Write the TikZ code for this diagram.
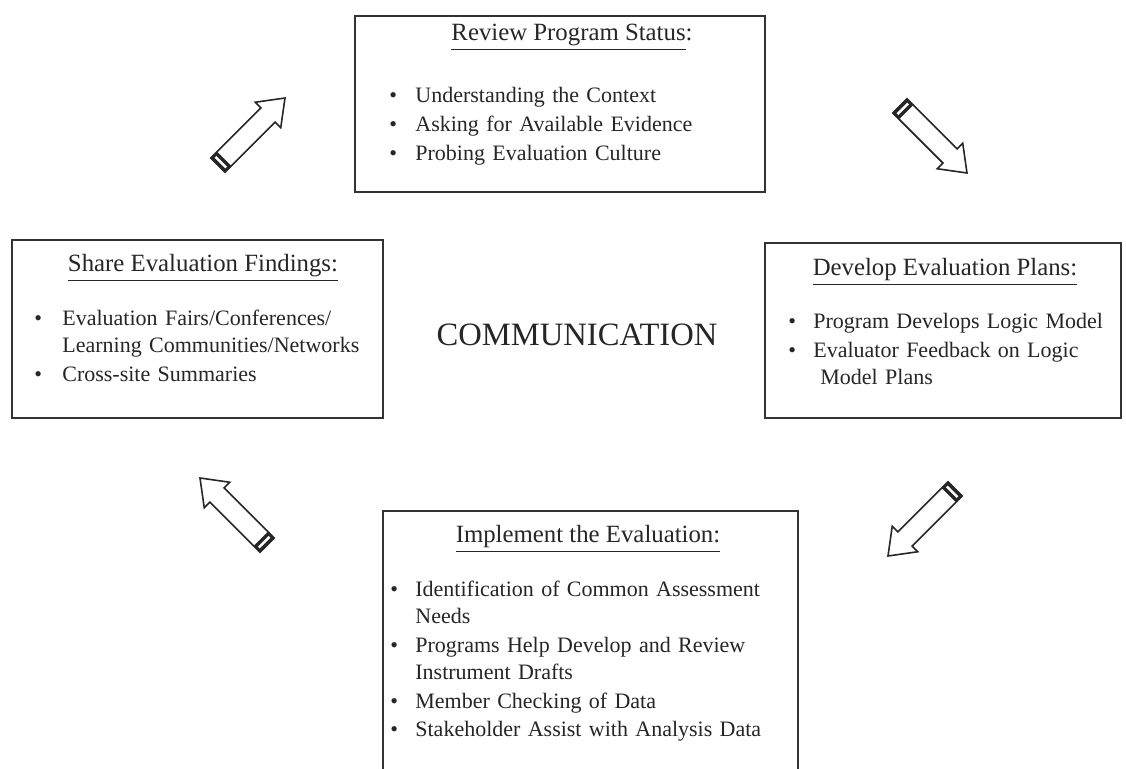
\documentclass[tikz,border=0pt]{standalone}
\usepackage{fontspec}
\setmainfont{Liberation Serif}

\tikzset{
  stepbox/.style={draw=black!80, line width=1pt, fill=white, inner sep=0pt},
  heading/.style={font=\fontsize{12.4}{14}\selectfont, text=black!85, anchor=base, inner sep=0pt},
  bullets/.style={font=\fontsize{11}{13.4}\selectfont, text=black!85, anchor=base west,
    inner sep=0pt, align=left, execute at begin node={\parskip=1pt\relax}},
  pencil/.style={draw=black!85, line width=0.8pt, fill=white, line join=miter},
}

% bullet with hanging indent
\newcommand{\itm}[1][13pt]{\hangindent=#1\hangafter=1\makebox[#1][l]{\textbullet}\ignorespaces}

% block arrow with a striped tail, tip at #1, pointing at angle #2
\newcommand{\pencilarrow}[2]{%
  \begin{scope}[shift={(#1)},rotate=#2]
    \draw[pencil] (0,0) -- (-24,18) -- (-24,10) -- (-95,10) -- (-95,-10) -- (-24,-10) -- (-24,-18) -- cycle;
    \fill[black!85] (-95,-10) rectangle (-86,10);
    \fill[white] (-92,-7.5) rectangle (-89.5,7.5);
  \end{scope}}

\begin{document}
\begin{tikzpicture}[x=0.5pt,y=-0.5pt]
  \clip (0,0) rectangle (1126,769);

  % boxes
  \node[stepbox, minimum width=205pt, minimum height=88pt] (status) at (560,104) {};
  \node[stepbox, minimum width=185.5pt, minimum height=89pt] (findings) at (197.5,329) {};
  \node[stepbox, minimum width=178pt, minimum height=87.5pt] (plans) at (943,330.5) {};
  \node[stepbox, minimum width=207.5pt, minimum height=144.5pt] (implement) at (590.5,655.5) {};

  % headings
  \node[heading] (statusTitle) at (572,41) {\underline{Review Program Status}:};
  \node[heading] (findingsTitle) at (203,272) {\underline{Share Evaluation Findings:}};
  \node[heading] (plansTitle) at (945,276) {\underline{Develop Evaluation Plans:}};
  \node[heading] (implementTitle) at (588,543) {\underline{Implement the Evaluation:}};

  % item lists
  \node[bullets, text width=180pt] (statusList) at (389,103) {%
    \itm Understanding the Context\par
    \itm Asking for Available Evidence\par
    \itm Probing Evaluation Culture\par};
  \node[bullets, text width=175pt] (findingsList) at (34,326) {%
    \itm[14pt] Evaluation Fairs/Conferences/\newline Learning Communities/Networks\par
    \itm[14pt] Cross-site Summaries\par};
  \node[bullets, text width=170pt] (plansList) at (788,329) {%
    \itm[12.5pt] Program Develops Logic Model\par
    \itm[12.5pt] Evaluator Feedback on Logic\newline\hspace*{3.5pt}Model Plans\par};
  \node[bullets, text width=200pt] (implementList) at (390,597) {%
    \itm[12.5pt] Identification of Common Assessment\newline Needs\par
    \itm[12.5pt] Programs Help Develop and Review\newline Instrument Drafts\par
    \itm[12.5pt] Member Checking of Data\par
    \itm[12.5pt] Stakeholder Assist with Analysis Data\par};

  \node[font=\fontsize{16.3}{19}\selectfont, text=black!85, inner sep=0pt] (comm) at (577,335) {COMMUNICATION};

  % arrows round the cycle
  \coordinate (arrowNE) at (285,98);
  \coordinate (arrowSE) at (967,173);
  \coordinate (arrowSW) at (888,556);
  \coordinate (arrowNW) at (200,478);
  \pencilarrow{arrowNE}{45}
  \pencilarrow{arrowSE}{-45}
  \pencilarrow{arrowSW}{-135}
  \pencilarrow{arrowNW}{135}
\end{tikzpicture}
\end{document}
